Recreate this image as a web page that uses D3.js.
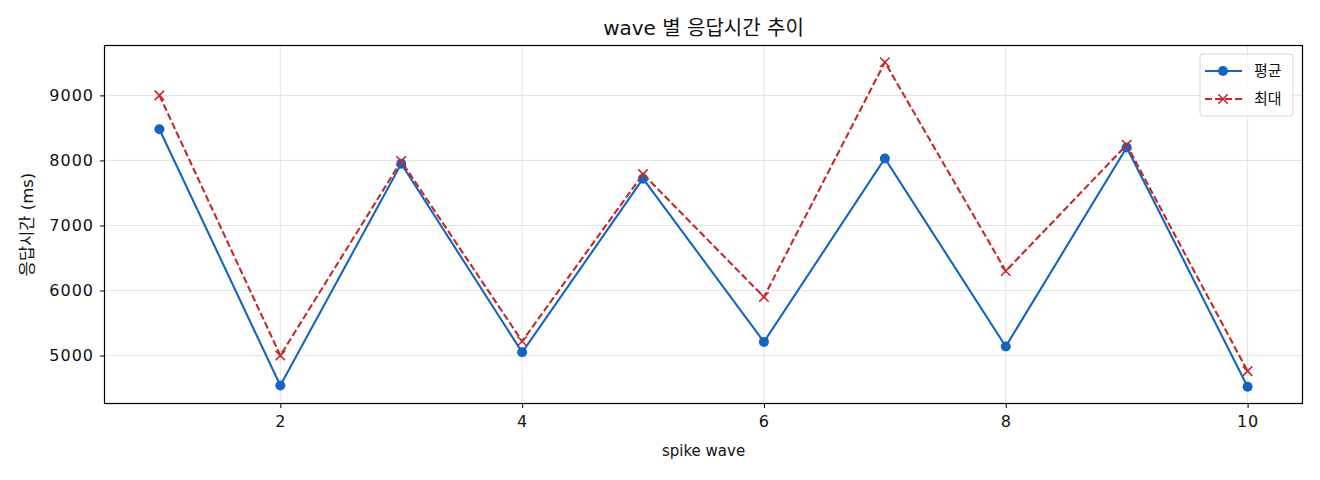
<!DOCTYPE html>
<html>
<head>
<meta charset="utf-8">
<script src="https://cdn.jsdelivr.net/npm/d3@7"></script>
<style>
  body { margin: 0; background: #fff; }
  text { font-family: "DejaVu Sans", "Noto Sans CJK KR", sans-serif; fill: #111; }
</style>
</head>
<body>
<div id="chart"></div>
<script>
// data
const waves = [1, 2, 3, 4, 5, 6, 7, 8, 9, 10];
const avgMs = [8480, 4540, 7950, 5050, 7720, 5210, 8030, 5140, 8200, 4520];
const maxMs = [9000, 5000, 7990, 5220, 7790, 5900, 9510, 6300, 8240, 4760];
const xTicks = [2, 4, 6, 8, 10];
const yTicks = [5000, 6000, 7000, 8000, 9000];

const W = 1320, H = 480;
const margin = {top: 46, right: 18, bottom: 77, left: 105};
const width = W - margin.left - margin.right,
    height = H - margin.top - margin.bottom;

const blue = "#1565c0", red = "#c62828";

const svg = d3.select("#chart")
  .append("svg")
    .attr("width", W)
    .attr("height", H);

const g = svg.append("g")
    .attr("transform", `translate(${margin.left}, ${margin.top})`);

// matplotlib style 5% padding
const xPad = (d3.max(waves) - d3.min(waves)) * 0.05;
const all = avgMs.concat(maxMs);
const yPad = (d3.max(all) - d3.min(all)) * 0.05;

const x = d3.scaleLinear()
  .domain([d3.min(waves) - xPad, d3.max(waves) + xPad])
  .range([0, width]);

const y = d3.scaleLinear()
  .domain([d3.min(all) - yPad, d3.max(all) + yPad])
  .range([height, 0]);

// grid
g.append("g")
  .selectAll("line")
  .data(xTicks)
  .join("line")
    .attr("x1", d => x(d)).attr("x2", d => x(d))
    .attr("y1", 0).attr("y2", height)
    .attr("stroke", "#e3e3e3").attr("stroke-width", 1);

g.append("g")
  .selectAll("line")
  .data(yTicks)
  .join("line")
    .attr("x1", 0).attr("x2", width)
    .attr("y1", d => y(d)).attr("y2", d => y(d))
    .attr("stroke", "#e3e3e3").attr("stroke-width", 1);

// axes
const xAxis = g.append("g")
  .attr("transform", `translate(0, ${height})`)
  .call(d3.axisBottom(x).tickValues(xTicks).tickFormat(d3.format("d"))
    .tickSize(5).tickPadding(8).tickSizeOuter(0));

const yAxis = g.append("g")
  .call(d3.axisLeft(y).tickValues(yTicks).tickFormat(d3.format("d"))
    .tickSize(5).tickPadding(6).tickSizeOuter(0));

[xAxis, yAxis].forEach(a => {
  a.select(".domain").remove();
  a.selectAll(".tick line").attr("stroke", "#000");
  a.selectAll(".tick text")
    .style("font-family", "'DejaVu Sans', 'Noto Sans CJK KR', sans-serif")
    .style("font-size", "16px")
    .style("letter-spacing", "1px")
    .attr("fill", "#111");
});

// frame
g.append("rect")
  .attr("x", -0.5).attr("y", -0.5)
  .attr("width", width + 1).attr("height", height + 1)
  .attr("fill", "none").attr("stroke", "#000").attr("stroke-width", 1.2);

// lines
const line = d3.line()
  .x((d, i) => x(waves[i]))
  .y(d => y(d));

g.append("path")
  .datum(avgMs)
  .attr("d", line)
  .attr("fill", "none")
  .attr("stroke", blue)
  .attr("stroke-width", 2.1);

g.append("path")
  .datum(maxMs)
  .attr("d", line)
  .attr("fill", "none")
  .attr("stroke", red)
  .attr("stroke-width", 2.1)
  .attr("stroke-dasharray", "7,3");

// markers
g.selectAll(".avg-dot")
  .data(avgMs)
  .join("circle")
    .attr("class", "avg-dot")
    .attr("cx", (d, i) => x(waves[i]))
    .attr("cy", d => y(d))
    .attr("r", 5)
    .attr("fill", blue);

const xMark = d3.symbol().type(d3.symbolTimes).size(60);
g.selectAll(".max-x")
  .data(maxMs)
  .join("path")
    .attr("class", "max-x")
    .attr("transform", (d, i) => `translate(${x(waves[i])}, ${y(d)})`)
    .attr("d", xMark)
    .attr("fill", "none")
    .attr("stroke", red)
    .attr("stroke-width", 1.6);

// title + labels
svg.append("text")
  .attr("x", margin.left + width / 2)
  .attr("y", 35)
  .attr("text-anchor", "middle")
  .style("font-size", "20px")
  .text("wave 별 응답시간 추이");

svg.append("text")
  .attr("x", margin.left + width / 2)
  .attr("y", 456)
  .attr("text-anchor", "middle")
  .style("font-size", "15px")
  .text("spike wave");

svg.append("text")
  .attr("transform", `translate(33, ${margin.top + height / 2}) rotate(-90)`)
  .attr("text-anchor", "middle")
  .style("font-size", "16.5px")
  .text("응답시간 (ms)");

// legend
const legend = g.append("g")
  .attr("transform", `translate(${width - 102}, 8)`);

legend.append("rect")
  .attr("width", 93).attr("height", 62)
  .attr("rx", 3)
  .attr("fill", "#fff").attr("fill-opacity", 0.8)
  .attr("stroke", "#d6d6d6");

const items = [
  {name: "평균", color: blue, dash: null, mark: "circle"},
  {name: "최대", color: red, dash: "7,3", mark: "x"}
];

items.forEach((it, i) => {
  const row = legend.append("g").attr("transform", `translate(0, ${17 + i * 28})`);
  row.append("line")
    .attr("x1", 5).attr("x2", 42)
    .attr("stroke", it.color).attr("stroke-width", 2)
    .attr("stroke-dasharray", it.dash);
  if (it.mark === "circle") {
    row.append("circle").attr("cx", 23).attr("r", 5).attr("fill", it.color);
  } else {
    row.append("path").attr("transform", "translate(23,0)").attr("d", xMark)
      .attr("fill", "none").attr("stroke", it.color).attr("stroke-width", 1.6);
  }
  row.append("text")
    .attr("x", 54).attr("dy", "0.35em")
    .style("font-size", "15px")
    .text(it.name);
});
</script>
</body>
</html>
